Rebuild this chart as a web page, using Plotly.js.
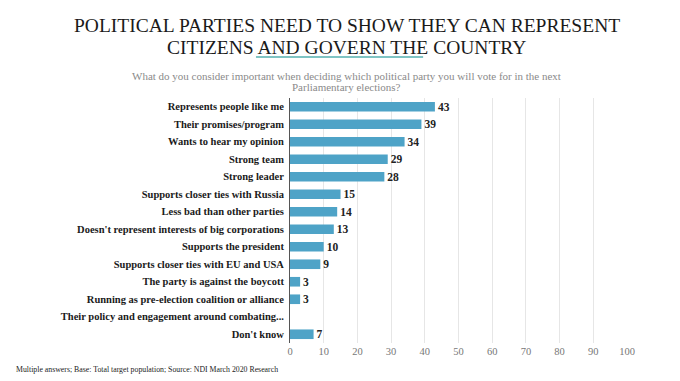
<!DOCTYPE html>
<html><head><meta charset="utf-8">
<script src="https://cdn.plot.ly/plotly-3.0.1.min.js"></script>
<style>body{margin:0;background:#fff}#c{width:680px;height:381px}</style>
</head><body><div id="c"></div>
<script>
const categories = [
  "Represents people like me",
  "Their promises/program",
  "Wants to hear my opinion",
  "Strong team",
  "Strong leader",
  "Supports closer ties with Russia",
  "Less bad than other parties",
  "Doesn't represent interests of big corporations",
  "Supports the president",
  "Supports closer ties with EU and USA",
  "The party is against the boycott",
  "Running as pre-election coalition or alliance",
  "Their policy and engagement around combating...",
  "Don't know"
];
const values = [43, 39, 34, 29, 28, 15, 14, 13, 10, 9, 3, 3, null, 7];
const xTicks = [0, 10, 20, 30, 40, 50, 60, 70, 80, 90, 100];
const titleLines = ["POLITICAL PARTIES NEED TO SHOW THEY CAN REPRESENT", "CITIZENS AND GOVERN THE COUNTRY"];
const subtitleLines = ["What do you consider important when deciding which political party you will vote for in the next", "Parliamentary elections?"];
const footnote = "Multiple answers; Base: Total target population; Source: NDI March 2020 Research";

const serif = "Liberation Serif";
const trace = {
  type: "bar", orientation: "h",
  x: values, y: categories,
  marker: {color: "#4ea3c7"},
  text: values.map(v => v == null ? "" : String(v)),
  textposition: "outside", cliponaxis: false, constraintext: "none",
  textfont: {family: serif, size: 11.5, color: "#222", weight: "bold"},
  hoverinfo: "skip"
};
const cx = 0.169;
const layout = {
  width: 680, height: 381,
  margin: {l: 290, r: 53, t: 98, b: 38},
  paper_bgcolor: "#fff", plot_bgcolor: "#fff",
  font: {family: serif},
  showlegend: false, bargap: 0.45,
  xaxis: {
    range: [0, 100], tickvals: xTicks, ticktext: xTicks.map(String),
    showgrid: true, gridcolor: "#e6e6e6", gridwidth: 1,
    zeroline: false, showline: false, ticks: "",
    tickfont: {family: serif, size: 10.5, color: "#777"}
  },
  yaxis: {
    autorange: "reversed", type: "category",
    showline: true, linecolor: "#555", linewidth: 1,
    ticks: "", showgrid: false, zeroline: false,
    tickfont: {family: serif, size: 10.5, color: "#1a1a1a", weight: "bold"},
    ticklabelstandoff: 3
  },
  annotations: [
    {text: titleLines[0], xref: "paper", yref: "paper", x: cx, y: 1.296, xanchor: "center", yanchor: "middle",
     showarrow: false, font: {family: serif, size: 19.5, color: "#1a1a1a"}},
    {text: titleLines[1], xref: "paper", yref: "paper", x: cx, y: 1.208, xanchor: "center", yanchor: "middle",
     showarrow: false, font: {family: serif, size: 19.5, color: "#1a1a1a"}},
    {text: subtitleLines[0], xref: "paper", yref: "paper", x: cx, y: 1.090, xanchor: "center", yanchor: "middle",
     showarrow: false, font: {family: serif, size: 11, color: "#8a8a8a"}},
    {text: subtitleLines[1], xref: "paper", yref: "paper", x: cx, y: 1.045, xanchor: "center", yanchor: "middle",
     showarrow: false, font: {family: serif, size: 11, color: "#8a8a8a"}},
    {text: footnote, xref: "paper", yref: "paper", x: -0.82, y: -0.08, xanchor: "left", yanchor: "top",
     showarrow: false, font: {family: serif, size: 7.8, color: "#222"}}
  ],
  shapes: [
    {type: "line", xref: "paper", yref: "paper", x0: -0.101, x1: 0.395, y0: 1.167, y1: 1.167,
     line: {color: "#7fc4c4", width: 2}}
  ]
};
Plotly.newPlot("c", [trace], layout, {displayModeBar: false, staticPlot: true});
</script></body></html>
